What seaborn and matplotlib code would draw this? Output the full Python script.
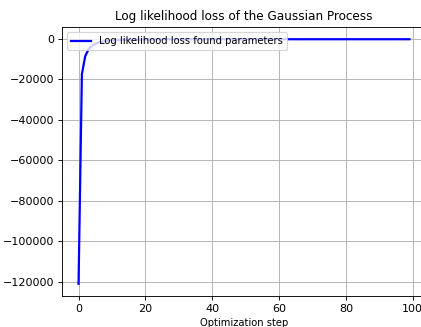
import matplotlib
matplotlib.use("Agg")
import matplotlib.pyplot as plt
import seaborn as sns
import pandas as pd

steps = list(range(100))
loss = [
    -121000, -17500, -8600, -5200, -3500, -2500, -1900, -1500, -1200, -1000,
    -850, -740, -650, -580, -530, -490, -460, -430, -410, -390,
    -375, -360, -350, -340, -332, -325, -318, -312, -306, -301,
    -297, -293, -289, -286, -283, -280, -278, -276, -274, -272,
    -270, -269, -268, -267, -266, -265, -264, -263, -262, -262,
    -261, -261, -260, -260, -260, -259, -259, -259, -259, -258,
    -258, -258, -258, -258, -258, -258, -258, -258, -258, -258,
    -258, -258, -258, -258, -258, -258, -258, -258, -258, -258,
    -258, -258, -258, -258, -258, -258, -258, -258, -258, -258,
    -258, -258, -258, -258, -258, -258, -258, -258, -258, -258,
]
series_label = "Log likelihood loss found parameters"
title = "Log likelihood loss of the Gaussian Process"
xlabel = "Optimization step"

df = pd.DataFrame({"step": steps, "loss": loss})

DPI = 80
fig = plt.figure(figsize=(421 / DPI, 327 / DPI), dpi=DPI)
ax = fig.add_axes([62 / 421, 31 / 327, 364 / 421, 269 / 327])
sns.lineplot(data=df, x="step", y="loss", ax=ax, color="blue", linewidth=2,
             label=series_label)
ax.set_title(title, fontsize=10.8)
ax.set_xlabel(xlabel, fontsize=9)
ax.set_ylabel("")
ax.grid(True, color="#b0b0b0", linewidth=0.8)
ax.legend(loc="upper left", fontsize=9)
fig.savefig("out.png", dpi=DPI)
